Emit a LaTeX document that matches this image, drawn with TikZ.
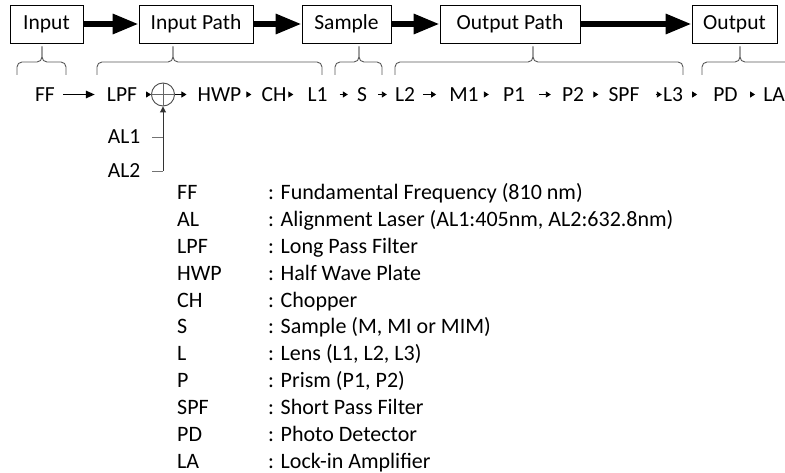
\documentclass[tikz,border=0pt]{standalone}
\usepackage{fontspec}
\setmainfont{Carlito}
\usetikzlibrary{arrows.meta}
\newcommand\mybrace[3]{%
  \draw[brc] (#1,-75) -- (#1,-62) -- (#2,-62) -- (#2,-46.5);
  \draw[brc] (#3,-75) -- (#3,-62) -- (#2,-62) -- (#2,-46.5);}
\begin{document}
\begin{tikzpicture}[x=1pt,y=1pt,
  font=\fontsize{21.5}{26}\selectfont,
  topbox/.style={draw=black, line width=0.8pt, minimum height=38pt, inner sep=0pt},
  bigarr/.style={line width=6pt, -{Triangle[length=26pt,width=19pt]}},
  rowtxt/.style={inner sep=0pt, text height=14pt, text depth=0pt, anchor=center},
  tri/.style={-{Triangle[length=5pt,width=6pt]}, line width=0.9pt},
  longarr/.style={-{Triangle[length=9pt,width=7.5pt]}, line width=1.6pt},
  brc/.style={draw=black!65, line width=0.9pt, rounded corners=5pt},
  alline/.style={draw=black!55, line width=0.9pt},
  lg/.style={anchor=base west, inner sep=0pt, font=\fontsize{22}{26}\selectfont}]
\useasboundingbox (0,0) rectangle (785,-473);

% top boxes
\node[topbox, minimum width=73pt]  (bIn)  at (46.5,-24)  {Input};
\node[topbox, minimum width=114pt] (bInP) at (196,-24)   {Input Path};
\node[topbox, minimum width=89pt]  (bS)   at (346.5,-24) {Sample};
\node[topbox, minimum width=140pt] (bOutP) at (510,-24)  {Output Path};
\node[topbox, minimum width=85pt]  (bOut) at (734.5,-24) {Output};
\draw[bigarr] (bIn) -- (bInP);
\draw[bigarr] (bInP) -- (bS);
\draw[bigarr] (bS) -- (bOutP);
\draw[bigarr] (bOutP) -- (bOut);

% braces
\mybrace{17}{42}{66}
\mybrace{97}{173}{322}
\mybrace{335}{359}{382}
\mybrace{395}{533}{683}
\mybrace{702}{740}{800}

% signal row
\node[rowtxt] (FF)  at (45,-94.5)    {FF};
\node[rowtxt] (LPF) at (122,-94.5)   {LPF};
\node[circle, draw=black!70, line width=0.9pt, minimum size=23pt, inner sep=0pt] (comb) at (163,-94.5) {};
\draw[black!60, line width=0.9pt] (comb.north) -- (comb.south) (comb.west) -- (comb.east);
\node[rowtxt] (HWP) at (219.5,-94.5) {HWP};
\node[rowtxt] (CH)  at (274,-94.5)   {CH};
\node[rowtxt] (L1)  at (317.5,-94.5) {L1};
\node[rowtxt] (S)   at (362,-94.5)   {S};
\node[rowtxt] (L2)  at (405,-94.5)   {L2};
\node[rowtxt] (M1)  at (464,-94.5)   {M1};
\node[rowtxt] (P1)  at (514,-94.5)   {P1};
\node[rowtxt] (P2)  at (573,-94.5)   {P2};
\node[rowtxt] (SPF) at (624,-94.5)   {SPF};
\node[rowtxt] (L3)  at (673,-94.5)   {L3};
\node[rowtxt] (PD)  at (725.5,-94.5) {PD};
\node[rowtxt] (LA)  at (774,-94.5)   {LA};

\draw[longarr, shorten <=8pt, shorten >=12pt] (FF.east) -- (LPF.west);
\draw[tri, shorten <=9pt] (LPF.east) -- (comb.west);
\draw[tri, shorten >=11pt] (comb.east) -- (HWP.west);
\draw[tri, shorten <=5pt, shorten >=10pt] (HWP.east) -- (CH.west);
\draw[tri, shorten <=2pt, shorten >=14pt] (CH.east) -- (L1.west);
\draw[tri, shorten <=12pt, shorten >=9pt] (L1.east) -- (S.west);
\draw[tri, shorten <=11pt, shorten >=8pt] (S.east) -- (L2.west);
\draw[tri, shorten <=8pt, shorten >=13pt] (L2.east) -- (M1.west);
\draw[tri, shorten <=8pt, shorten >=14pt] (M1.east) -- (P1.west);
\draw[tri, shorten <=14pt, shorten >=11pt] (P1.east) -- (P2.west);
\draw[tri, shorten <=10pt, shorten >=10pt] (P2.east) -- (SPF.west);
\draw[tri, shorten <=16pt, shorten >=1pt] (SPF.east) -- (L3.west);
\draw[tri, shorten <=9pt, shorten >=16pt] (L3.east) -- (PD.west);
\draw[tri, shorten <=12pt, shorten >=8pt] (PD.east) -- (LA.west);

% alignment lasers
\node[rowtxt] (AL1) at (124,-137) {AL1};
\node[rowtxt] (AL2) at (124,-171) {AL2};
\draw[alline, shorten <=12pt] (AL1.east) -- (AL1.east -| comb.south);
\draw[alline, shorten <=12pt] (AL2.east) -- (AL2.east -| comb.south);
\draw[draw=black!80, line width=0.9pt, -{Triangle[length=6pt,width=6pt]}] (AL2.east -| comb.south) -- (comb.south);

% legend
\foreach \i/\a/\b in {0/FF/{: Fundamental Frequency (810 nm)},
  1/AL/{: Alignment Laser (AL1:405nm, AL2:632.8nm)},
  2/LPF/{: Long Pass Filter},
  3/HWP/{: Half Wave Plate},
  4/CH/{: Chopper},
  5/S/{: Sample (M, MI or MIM)},
  6/L/{: Lens (L1, L2, L3)},
  7/P/{: Prism (P1, P2)},
  8/SPF/{: Short Pass Filter},
  9/PD/{: Photo Detector},
  10/LA/{: Lock-in Amplifier}}{
  \node[lg] (k\i) at (177,{-200-26.8*\i}) {\a};
  \node[lg] (d\i) at (268,{-200-26.8*\i}) {\b};
}
\end{tikzpicture}
\end{document}
